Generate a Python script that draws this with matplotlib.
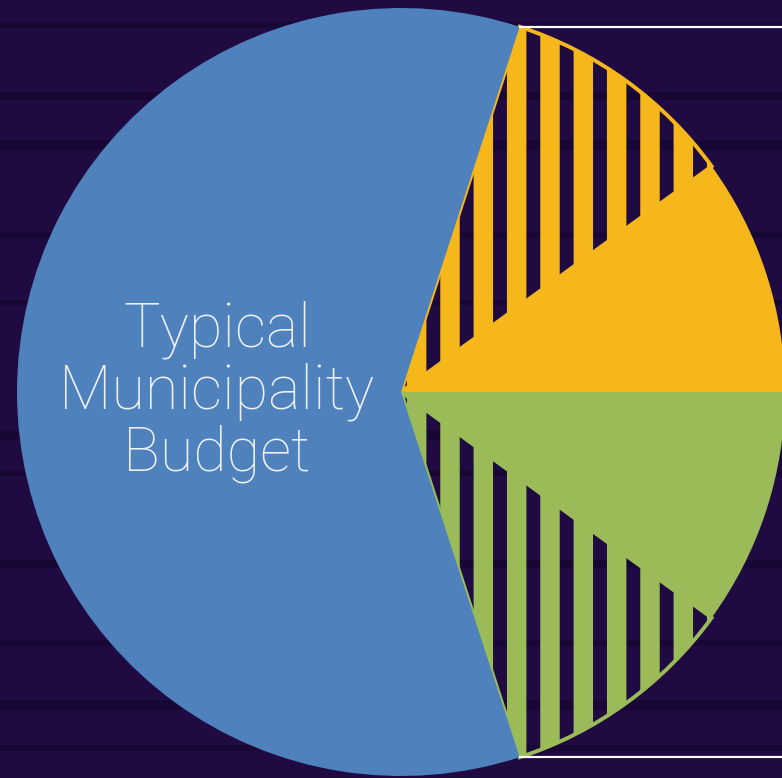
import matplotlib
matplotlib.use("Agg")
import matplotlib.pyplot as plt
import numpy as np

# budget shares, clockwise from the top edge of the right part
labels = ["Share A (hatched)", "Share A", "Share B", "Share B (hatched)", "Typical Municipality Budget"]
shares = [10, 10, 10, 10, 60]
colors = ["#f5b71a", "#f5b71a", "#9bbb59", "#9bbb59", "#4f81bd"]
hatched = [True, False, False, True, False]

title_text = "Typical\nMunicipality\nBudget"

# dark streaks in the backdrop (y in pixels from top, height)
streak_y = [22, 92, 140, 232, 300, 430, 470, 560, 640, 700, 745]
streak_h = [6, 8, 10, 6, 5, 10, 6, 8, 6, 10, 6]

W, H, DPI = 782, 778, 200
plt.rcParams["hatch.linewidth"] = 7.0

fig = plt.figure(figsize=(W / DPI, H / DPI), dpi=DPI)
fig.patch.set_facecolor("#1f0a42")
ax = fig.add_axes([0, 0, 1, 1])
ax.set_facecolor("#1f0a42")

for y, h in zip(streak_y, streak_h):
    ax.axhspan(H - y - h, H - y, color="#0b031c", alpha=0.35, lw=0, zorder=0)

cx, cy, r = 401, H - 392, 384
wedges, _ = ax.pie(shares, colors=colors, startangle=72, counterclock=False,
                   center=(cx, cy), radius=r, wedgeprops=dict(linewidth=0))
for w, c, hz in zip(wedges, colors, hatched):
    w.set_zorder(2)
    if hz:
        w.set_facecolor("none")
        w.set_edgecolor(c)
        w.set_linewidth(1.4)
        w.set_hatch("|")

# white frame lines running off to the right from the slice tips
a = np.deg2rad(72)
ax.plot([cx + r * np.cos(a), W], [cy + r * np.sin(a)] * 2, color="white", lw=0.8, zorder=3)
ax.plot([cx + r * np.cos(a), W], [cy - r * np.sin(a)] * 2, color="white", lw=0.8, zorder=3)

ax.text(217, H - 392, title_text, ha="center", va="center", color="#eef2f8",
        fontsize=22, family="Roboto", fontweight="light", linespacing=1.08, zorder=4)

ax.set_xlim(0, W)
ax.set_ylim(0, H)
ax.set_aspect("auto")
ax.axis("off")

fig.savefig("out.png", dpi=DPI, facecolor=fig.get_facecolor())
